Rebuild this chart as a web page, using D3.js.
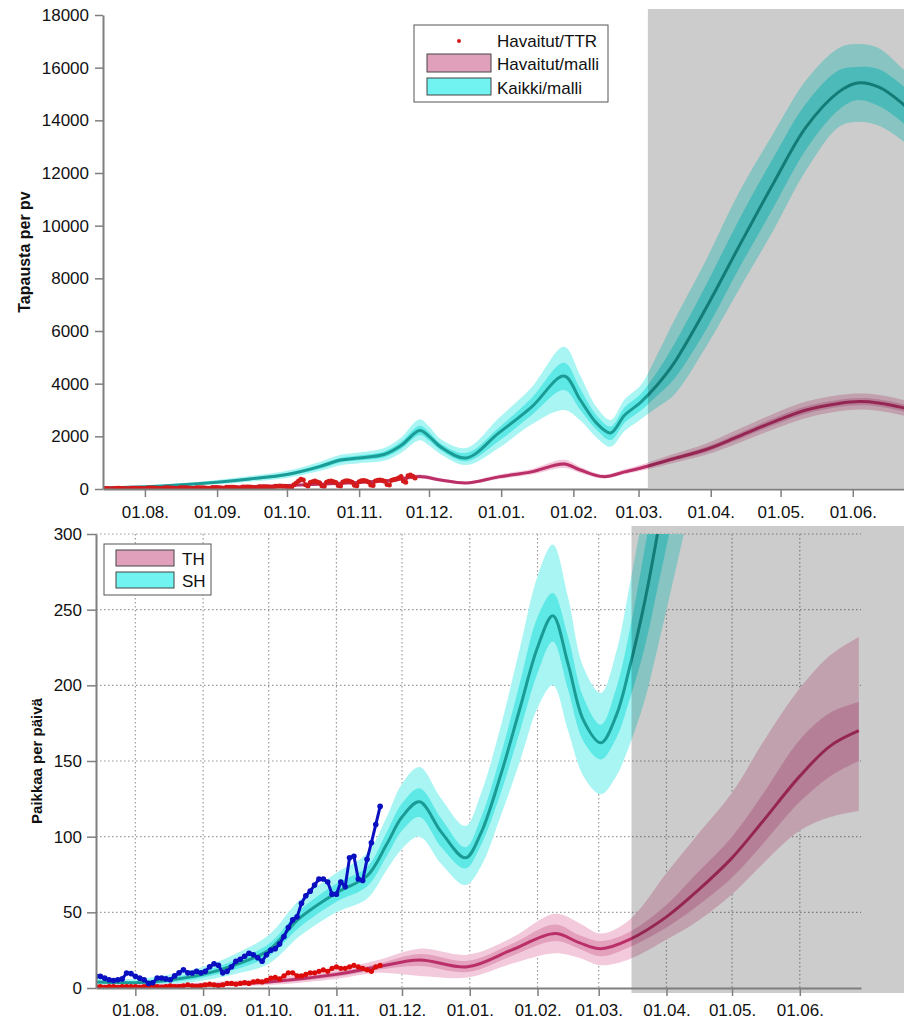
<!DOCTYPE html>
<html><head><meta charset="utf-8">
<script src="https://cdn.jsdelivr.net/npm/d3@7"></script>
<style>
body{margin:0;background:#fff;}
svg{display:block;font-family:"Liberation Sans",Arial,sans-serif;}
</style>
</head><body>
<svg id="c" width="904" height="1021"></svg>
<script>
// ---------------- DATA ----------------
// Top chart: cases per day
const topYTicks = [0,2000,4000,6000,8000,10000,12000,14000,16000,18000];
const topForecastStart = "2022-03-05";

const kaikkiDates = ["2021-07-14","2021-08-01","2021-08-15","2021-09-01","2021-09-15","2021-10-01","2021-10-15","2021-10-24","2021-11-01","2021-11-12","2021-11-19","2021-11-27","2021-12-01","2021-12-06","2021-12-17","2021-12-31","2022-01-14","2022-01-28","2022-02-04","2022-02-11","2022-02-17","2022-02-23","2022-03-02","2022-03-09","2022-03-16","2022-03-30","2022-04-13","2022-04-28","2022-05-12","2022-05-26","2022-06-03","2022-06-12","2022-06-22","2022-06-26"];
const kaikkiMid     = [50,90,150,260,380,550,850,1100,1180,1320,1650,2220,2000,1600,1180,2130,3110,4290,3380,2500,2130,2800,3300,3950,4750,6870,9190,11620,13750,15080,15420,15270,14660,14300];
const kaikkiInnerLo = [40,75,125,220,330,490,770,1010,1090,1210,1520,2050,1840,1470,1050,1820,2800,3760,3000,2250,1860,2520,2980,3550,4150,6050,8350,10700,12900,14400,14770,14550,13950,13600];
const kaikkiInnerHi = [60,105,175,300,430,610,930,1190,1270,1430,1790,2400,2160,1730,1370,2330,3450,4790,3800,2800,2370,3100,3620,4450,5450,7750,10200,12600,14650,15900,16030,15950,15350,15000];
const kaikkiOuterLo = [30,60,100,180,280,420,680,900,980,1080,1370,1850,1650,1320,910,1560,2450,3000,2600,1950,1600,2200,2650,3100,3550,5400,7560,9840,12110,13750,13940,13800,13250,12900];
const kaikkiOuterHi = [75,125,205,345,490,690,1030,1300,1390,1570,1960,2650,2380,1900,1560,2700,3850,5400,4300,3100,2620,3400,3950,5100,6350,8700,11240,13520,15530,16750,16900,16750,16000,15700];

const havDates = ["2021-07-14","2021-08-01","2021-09-01","2021-10-01","2021-11-01","2021-11-15","2021-11-27","2021-12-06","2021-12-17","2021-12-31","2022-01-14","2022-01-28","2022-02-04","2022-02-14","2022-02-23","2022-03-02","2022-03-16","2022-03-30","2022-04-13","2022-04-28","2022-05-12","2022-05-26","2022-06-04","2022-06-12","2022-06-22","2022-06-26"];
const havMid     = [20,30,60,130,250,330,470,340,230,460,650,950,720,470,650,800,1150,1500,2000,2550,3000,3250,3320,3270,3100,3000];
const havInnerLo = [16,25,52,115,225,300,430,310,205,420,600,880,670,435,605,745,1070,1400,1880,2420,2860,3110,3180,3130,2960,2860];
const havInnerHi = [24,35,68,145,275,360,510,370,255,500,700,1020,775,505,695,855,1230,1600,2120,2690,3140,3390,3460,3410,3240,3140];
const havOuterLo = [12,20,44,100,200,265,390,280,180,380,550,800,610,395,560,690,990,1300,1750,2270,2700,2950,3020,2970,2800,2700];
const havOuterHi = [30,42,78,165,305,400,560,410,285,550,760,1110,840,550,750,920,1330,1730,2280,2860,3320,3570,3630,3580,3400,3300];

// observed (Havaitut/TTR), daily from 2021-07-14
const ttrStart = "2021-07-14";
const ttrValues = [
 15,20,18,12,10,22,25,25,22,20,14,12,28,30,30,28,25,16,
 14,35,40,38,36,30,20,18,42,45,44,40,35,22,20,48,50,48,45,40,25,22,50,52,50,46,42,28,24,55,58,
 55,50,35,30,65,70,68,64,60,40,36,75,80,78,72,68,45,40,85,90,88,84,80,55,50,100,105,110,105,100,
 95,70,60,160,230,300,370,340,160,110,250,280,300,270,240,120,100,260,290,300,280,250,130,110,270,300,310,290,260,140,120,
 280,310,320,300,270,150,130,300,330,340,320,290,170,150,330,360,380,420,470,300,260,500,530,480,420];

// Bottom chart: beds per day
const botYTicks = [0,50,100,150,200,250,300];
const botForecastStart = "2022-03-16";

const shDates = ["2021-07-14","2021-08-01","2021-08-15","2021-09-01","2021-09-15","2021-10-01","2021-10-15","2021-11-01","2021-11-15","2021-11-24","2021-12-01","2021-12-09","2021-12-19","2021-12-30","2022-01-06","2022-01-15","2022-01-24","2022-02-01","2022-02-08","2022-02-15","2022-02-22","2022-03-02","2022-03-09","2022-03-15","2022-03-22","2022-03-28","2022-04-05","2022-04-12"];
const shMid     = [4,3.5,5,9,15,25,46,63,74,95,113,123,103,86,102,140,185,225,246,214,177,162,180,211,255,301,370,440];
const shInnerLo = [3,2.5,3.5,7,12,21,40,57,67,87,104,113,93,79,94,128,170,208,229,197,163,151,165,190,225,265,320,380];
const shInnerHi = [5,4.5,6.5,11,18,29,51,69,80,103,122,132,112,93,112,153,202,245,261,232,192,174,198,235,290,340,420,500];
const shOuterLo = [2,1.5,2,5,9,16,34,50,59,78,92,100,82,68,80,113,150,185,200,170,140,128,140,160,190,225,275,320];
const shOuterHi = [6.5,6,8.5,14,22,35,58,76,89,113,135,146,125,107,128,172,225,272,293,258,212,195,222,265,320,375,460,560];

const thDates = ["2021-07-14","2021-08-01","2021-09-01","2021-10-01","2021-11-01","2021-11-20","2021-12-09","2021-12-31","2022-01-20","2022-02-09","2022-02-20","2022-03-02","2022-03-15","2022-04-01","2022-04-15","2022-05-01","2022-05-15","2022-06-01","2022-06-15","2022-06-28"];
const thMid     = [1,1,2,4,9,14,18.5,14,25,36,30,26,32,47,64,86,110,140,160,170];
const thInnerLo = [0.5,0.5,1.3,3,7.5,12,14.5,10.5,21,31,26,21,27,40,54,73,95,123,140,150];
const thInnerHi = [1.5,1.5,2.8,5,10.5,16,22.5,18,29,42,35,31,37,55,76,100,128,164,182,189];
const thOuterLo = [0,0.2,0.8,2,6,10,8,7,16,23,20,15,19,32,44,62,82,104,113,117];
const thOuterHi = [2.5,2.5,3.6,6.5,12.5,18.5,26,22,33,49,43,36,45,76,101,129,162,198,220,232];

// observed, every 2 days from 2021-07-14
const obsStart = "2021-07-14";
const shObs = [
 7.7,7.7,6.5,5.5,5,5.5,6,9.9,9.5,
 7.7,6.5,5.5,3,3.5,6.6,6.6,6,5.5,8,10,12,10,9.9,11,10,
 11,14,16,15,10,11,14,17.7,19,21,23,22,20,17.7,22,
 25,26,29,34,40,45,47,56,61,64,68,72,72,70,62,
 62,70,67,86,87,72,71,85,96,108,120];
const thObs = [
 1,1,0.5,1,1,0.5,1,1,1,
 1,0.5,1,1,1.5,1,0.5,1,1.5,1,1,1.5,2,1.5,1,1.5,
 2,2.5,2,1.5,2,3,3,2.5,3,3.5,3,4,4.5,4,5,
 6.5,7,6,8,10,10,8,8,9,10,10,11,12,11,13,
 14,13,13,14,15,14,13,12,11,14,15];

// ---------------- DRAW ----------------
const P = d3.utcParse("%Y-%m-%d");
const fmt = d3.utcFormat("%d.%m.");
const svg = d3.select("#c");
const C = {
  cyanOuter:"#a9f5f3", cyanInner:"#5ee9e6", cyanLine:"#1a9b95",
  pinkOuter:"#f3cadb", pinkInner:"#e3a1bd", pinkLine:"#bb2f68",
  axis:"#7f7f7f", text:"#111"
};
const curve = d3.curveCatmullRom.alpha(0.5);

function drawModel(g, x, y, dates, mid, il, ih, ol, oh, cOuter, cInner, cLine) {
  const D = dates.map(P);
  const area = (lo, hi) => d3.area().x((d,i)=>x(D[i])).y0((d,i)=>y(lo[i])).y1((d,i)=>y(hi[i])).curve(curve)(D);
  g.append("path").attr("d", area(ol, oh)).attr("fill", cOuter);
  g.append("path").attr("d", area(il, ih)).attr("fill", cInner);
  g.append("path").attr("d", d3.line().x((d,i)=>x(D[i])).y((d,i)=>y(mid[i])).curve(curve)(D))
    .attr("fill","none").attr("stroke", cLine).attr("stroke-width", 3);
}

function styleAxis(g) {
  g.select(".domain").attr("stroke", C.axis).attr("stroke-width", 2);
  g.selectAll(".tick line").attr("stroke", C.axis).attr("stroke-width", 1.5);
  g.selectAll(".tick text").attr("fill", C.text).style("font-size","17px")
   .style("font-family",'"Liberation Sans",Arial,sans-serif');
}

// ===== TOP =====
const xT = d3.scaleUtc().domain([P("2021-07-14"), P("2022-06-23")]).range([103, 904]);
const yT = d3.scaleLinear().domain([0, 18000]).range([489, 15]);

svg.append("clipPath").attr("id","clipT").append("rect")
  .attr("x", xT.range()[0]).attr("y", yT(18000)).attr("width", xT.range()[1]-xT.range()[0]).attr("height", yT(0)-yT(18000));
const gT = svg.append("g").attr("clip-path","url(#clipT)");
drawModel(gT, xT, yT, kaikkiDates, kaikkiMid, kaikkiInnerLo, kaikkiInnerHi, kaikkiOuterLo, kaikkiOuterHi, C.cyanOuter, C.cyanInner, C.cyanLine);
drawModel(gT, xT, yT, havDates, havMid, havInnerLo, havInnerHi, havOuterLo, havOuterHi, C.pinkOuter, C.pinkInner, C.pinkLine);

const ttrD = ttrValues.map((v,i)=>({d:d3.utcDay.offset(P(ttrStart), i), v}));
gT.append("path").attr("d", d3.line().x(p=>xT(p.d)).y(p=>yT(p.v))(ttrD))
  .attr("fill","none").attr("stroke","#d41a1a").attr("stroke-width",1.5);
gT.selectAll("circle.ttr").data(ttrD).join("circle").attr("class","ttr")
  .attr("cx", p=>xT(p.d)).attr("cy", p=>yT(p.v)).attr("r", 2.5).attr("fill","#d41a1a");

// forecast shading (top)
svg.append("rect").attr("x", xT(P(topForecastStart))).attr("y", yT(18000)-6)
  .attr("width", 904 - xT(P(topForecastStart))).attr("height", yT(0)-1-(yT(18000)-6))
  .attr("fill","#000").attr("opacity",0.2);

const axTx = svg.append("g").attr("transform",`translate(0,${yT(0)})`)
  .call(d3.axisBottom(xT).ticks(d3.utcMonth.every(1)).tickFormat(fmt).tickSize(8).tickSizeOuter(0).tickPadding(9));
styleAxis(axTx);
const axTy = svg.append("g").attr("transform",`translate(${xT.range()[0]},0)`)
  .call(d3.axisLeft(yT).tickValues(topYTicks).tickFormat(d3.format("d")).tickSize(8).tickSizeOuter(0).tickPadding(6));
styleAxis(axTy);

svg.append("text").attr("transform",`translate(30,${(yT(0)+yT(18000))/2}) rotate(-90)`)
  .attr("text-anchor","middle").attr("fill",C.text).style("font-size","16px").style("font-weight","bold")
  .text("Tapausta per pv");

// legend top
const lt = svg.append("g");
lt.append("rect").attr("x",414).attr("y",25).attr("width",194).attr("height",77).attr("fill","#fff").attr("stroke","#555").attr("stroke-width",1);
lt.append("circle").attr("cx",459).attr("cy",41).attr("r",2).attr("fill","#d41a1a");
lt.append("rect").attr("x",427).attr("y",54).attr("width",64).attr("height",18).attr("fill","#e0a0bc").attr("stroke","#444");
lt.append("rect").attr("x",427).attr("y",78).attr("width",64).attr("height",17).attr("fill","#70f3f1").attr("stroke","#444");
[["Havaitut/TTR",47],["Havaitut/malli",70],["Kaikki/malli",94]].forEach(([t,yy])=>{
  lt.append("text").attr("x",497).attr("y",yy).attr("fill",C.text).style("font-size","17px").text(t);
});

// ===== BOTTOM =====
const xB = d3.scaleUtc().domain([P("2021-07-14"), P("2022-06-29")]).range([96, 861]);
const yB = d3.scaleLinear().domain([0, 300]).range([988, 534]);

// grid
const grid = svg.append("g").attr("stroke","#9a9a9a").attr("stroke-width",1.2).attr("stroke-dasharray","1.5,2.5");
xB.ticks(d3.utcMonth.every(1)).forEach(t=>{
  grid.append("line").attr("x1",xB(t)).attr("x2",xB(t)).attr("y1",yB(300)).attr("y2",yB(0));
});
botYTicks.filter(v=>v>0).forEach(v=>{
  grid.append("line").attr("x1",xB.range()[0]).attr("x2",xB.range()[1]).attr("y1",yB(v)).attr("y2",yB(v));
});

svg.append("clipPath").attr("id","clipB").append("rect")
  .attr("x", xB.range()[0]).attr("y", yB(300)).attr("width", xB.range()[1]-xB.range()[0]).attr("height", yB(0)-yB(300));
const gB = svg.append("g").attr("clip-path","url(#clipB)");
drawModel(gB, xB, yB, shDates, shMid, shInnerLo, shInnerHi, shOuterLo, shOuterHi, C.cyanOuter, C.cyanInner, C.cyanLine);
drawModel(gB, xB, yB, thDates, thMid, thInnerLo, thInnerHi, thOuterLo, thOuterHi, C.pinkOuter, C.pinkInner, C.pinkLine);

const thO = thObs.map((v,i)=>({d:d3.utcDay.offset(P(obsStart), 2*i), v}));
const shO = shObs.map((v,i)=>({d:d3.utcDay.offset(P(obsStart), 2*i), v}));
gB.append("path").attr("d", d3.line().x(p=>xB(p.d)).y(p=>yB(p.v))(thO)).attr("fill","none").attr("stroke","#dd0a0a").attr("stroke-width",2.5);
gB.selectAll("circle.tho").data(thO).join("circle").attr("class","tho").attr("cx",p=>xB(p.d)).attr("cy",p=>yB(p.v)).attr("r",2.6).attr("fill","#dd0a0a");
gB.append("path").attr("d", d3.line().x(p=>xB(p.d)).y(p=>yB(p.v))(shO)).attr("fill","none").attr("stroke","#0a10c0").attr("stroke-width",3);
gB.selectAll("circle.sho").data(shO).join("circle").attr("class","sho").attr("cx",p=>xB(p.d)).attr("cy",p=>yB(p.v)).attr("r",2.8).attr("fill","#0a10c0");

// forecast shading (bottom)
svg.append("rect").attr("x", xB(P(botForecastStart))).attr("y", yB(300)-8)
  .attr("width", 904 - xB(P(botForecastStart))).attr("height", yB(0)+5-(yB(300)-8))
  .attr("fill","#000").attr("opacity",0.2);

const axBx = svg.append("g").attr("transform",`translate(0,${yB(0)})`)
  .call(d3.axisBottom(xB).ticks(d3.utcMonth.every(1)).tickFormat(fmt).tickSize(8).tickSizeOuter(0).tickPadding(8));
styleAxis(axBx);
const axBy = svg.append("g").attr("transform",`translate(${xB.range()[0]},0)`)
  .call(d3.axisLeft(yB).tickValues(botYTicks).tickFormat(d3.format("d")).tickSize(9).tickSizeOuter(0).tickPadding(5));
styleAxis(axBy);

svg.append("text").attr("transform",`translate(42,${(yB(0)+yB(300))/2}) rotate(-90)`)
  .attr("text-anchor","middle").attr("fill",C.text).style("font-size","15px").style("font-weight","bold")
  .text("Paikkaa per päivä");

// legend bottom
const lb = svg.append("g");
lb.append("rect").attr("x",104).attr("y",544).attr("width",107).attr("height",51).attr("fill","#fff").attr("stroke","#555");
lb.append("rect").attr("x",116).attr("y",550).attr("width",58).attr("height",16).attr("fill","#e0a0bc").attr("stroke","#444");
lb.append("rect").attr("x",116).attr("y",572).attr("width",58).attr("height",16).attr("fill","#70f3f1").attr("stroke","#444");
[["TH",565],["SH",587]].forEach(([t,yy])=>{
  lb.append("text").attr("x",182).attr("y",yy).attr("fill",C.text).style("font-size","17px").text(t);
});
</script>
</body></html>
